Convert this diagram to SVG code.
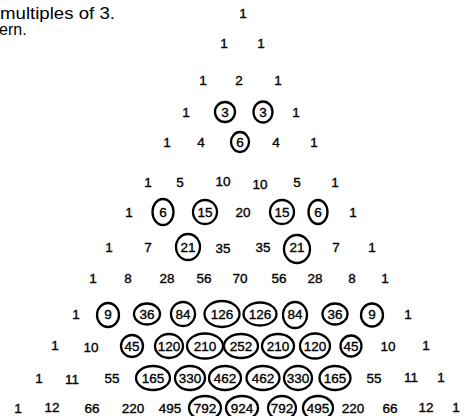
<svg xmlns="http://www.w3.org/2000/svg" width="473" height="416" viewBox="0 0 473 416">
<style>
text{font-family:"Liberation Sans",Arial,sans-serif;fill:#000}
.n{font-size:13.5px;text-anchor:middle;stroke:#000;stroke-width:0.35}
.cap{font-size:16px}
ellipse{fill:none;stroke:#000;stroke-width:2.3}
</style>
<rect width="473" height="416" fill="#fff"/>
<g id="caption">
<text class="cap" x="0" y="19" textLength="115" lengthAdjust="spacingAndGlyphs">multiples of 3.</text>
<text class="cap" x="-1" y="35">ern.</text>
</g>
<g id="row0"><text class="n" x="243" y="18">1</text></g>
<g id="row1"><text class="n" x="224" y="48">1</text><text class="n" x="261" y="48">1</text></g>
<g id="row2"><text class="n" x="203" y="85">1</text><text class="n" x="239" y="85">2</text><text class="n" x="278" y="85">1</text></g>
<g id="row3">
<text class="n" x="186" y="117">1</text>
<ellipse cx="225" cy="112" rx="10" ry="10"/><text class="n" x="225" y="117">3</text>
<ellipse cx="263" cy="112" rx="9.5" ry="10.5"/><text class="n" x="263" y="117">3</text>
<text class="n" x="296" y="117">1</text>
</g>
<g id="row4">
<text class="n" x="167" y="147">1</text><text class="n" x="201" y="147">4</text>
<ellipse cx="240" cy="142" rx="9" ry="10"/><text class="n" x="240" y="147">6</text>
<text class="n" x="276" y="147">4</text><text class="n" x="314" y="147">1</text>
</g>
<g id="row5">
<text class="n" x="148" y="187">1</text><text class="n" x="180" y="187">5</text><text class="n" x="223" y="186">10</text><text class="n" x="260" y="189">10</text><text class="n" x="297" y="187">5</text><text class="n" x="335" y="187">1</text>
</g>
<g id="row6">
<text class="n" x="129" y="217">1</text>
<ellipse cx="163" cy="212" rx="10.5" ry="13"/><text class="n" x="163" y="217">6</text>
<ellipse cx="205" cy="212" rx="12" ry="12"/><text class="n" x="205" y="217">15</text>
<text class="n" x="243" y="217">20</text>
<ellipse cx="282" cy="212" rx="12" ry="12"/><text class="n" x="282" y="217">15</text>
<ellipse cx="318" cy="212" rx="9.5" ry="12"/><text class="n" x="318" y="217">6</text>
<text class="n" x="353" y="217">1</text>
</g>
<g id="row7">
<text class="n" x="109" y="252">1</text><text class="n" x="148" y="252">7</text>
<ellipse cx="188" cy="247" rx="12" ry="13"/><text class="n" x="188" y="252">21</text>
<text class="n" x="223" y="253">35</text><text class="n" x="263" y="252">35</text>
<ellipse cx="297" cy="249" rx="13" ry="14"/><text class="n" x="297" y="252">21</text>
<text class="n" x="336" y="252">7</text><text class="n" x="372" y="252">1</text>
</g>
<g id="row8">
<text class="n" x="93" y="283">1</text><text class="n" x="128" y="283">8</text><text class="n" x="167" y="283">28</text><text class="n" x="204" y="283">56</text><text class="n" x="240" y="283">70</text><text class="n" x="279" y="283">56</text><text class="n" x="315" y="283">28</text><text class="n" x="352" y="283">8</text><text class="n" x="385" y="283">1</text>
</g>
<g id="row9">
<text class="n" x="76" y="319">1</text>
<ellipse cx="108" cy="315" rx="11" ry="12"/><text class="n" x="108" y="319">9</text>
<ellipse cx="147" cy="314" rx="13" ry="10.5"/><text class="n" x="147" y="319">36</text>
<ellipse cx="183" cy="314" rx="12" ry="12"/><text class="n" x="183" y="319">84</text>
<ellipse cx="222" cy="314" rx="17.5" ry="13"/><text class="n" x="222" y="319">126</text>
<ellipse cx="260" cy="314" rx="16.5" ry="11.5"/><text class="n" x="260" y="319">126</text>
<ellipse cx="295" cy="315" rx="12" ry="13"/><text class="n" x="295" y="319">84</text>
<ellipse cx="335" cy="314" rx="12.5" ry="10.5"/><text class="n" x="335" y="319">36</text>
<ellipse cx="372" cy="315" rx="11" ry="11.5"/><text class="n" x="372" y="319">9</text>
<text class="n" x="408" y="319">1</text>
</g>
<g id="row10">
<text class="n" x="55" y="350">1</text><text class="n" x="91" y="352">10</text>
<ellipse cx="132" cy="346" rx="11" ry="11"/><text class="n" x="132" y="351">45</text>
<ellipse cx="169" cy="346" rx="14" ry="12"/><text class="n" x="169" y="351">120</text>
<ellipse cx="205" cy="346" rx="18" ry="12.5"/><text class="n" x="205" y="351">210</text>
<ellipse cx="241" cy="346" rx="17" ry="12"/><text class="n" x="241" y="351">252</text>
<ellipse cx="278" cy="346" rx="16" ry="12"/><text class="n" x="278" y="351">210</text>
<ellipse cx="315" cy="346" rx="15" ry="12.5"/><text class="n" x="315" y="351">120</text>
<ellipse cx="351" cy="346" rx="10.5" ry="10.5"/><text class="n" x="351" y="351">45</text>
<text class="n" x="388" y="351">10</text><text class="n" x="426" y="350">1</text>
</g>
<g id="row11">
<text class="n" x="39" y="383">1</text><text class="n" x="72" y="384">11</text><text class="n" x="112" y="383">55</text>
<ellipse cx="153" cy="378" rx="17" ry="12"/><text class="n" x="153" y="383">165</text>
<ellipse cx="190" cy="378" rx="15" ry="12"/><text class="n" x="190" y="383">330</text>
<ellipse cx="225" cy="378" rx="16" ry="12"/><text class="n" x="225" y="383">462</text>
<ellipse cx="263" cy="378" rx="16.5" ry="12"/><text class="n" x="263" y="383">462</text>
<ellipse cx="298" cy="378" rx="14" ry="12"/><text class="n" x="298" y="383">330</text>
<ellipse cx="335" cy="378" rx="15.5" ry="12"/><text class="n" x="335" y="383">165</text>
<text class="n" x="374" y="383">55</text><text class="n" x="411" y="382">11</text><text class="n" x="441" y="382">1</text>
</g>
<g id="row12">
<text class="n" x="18" y="413">1</text><text class="n" x="52" y="412">12</text><text class="n" x="92" y="413">66</text><text class="n" x="133" y="413">220</text><text class="n" x="170" y="413">495</text>
<ellipse cx="205" cy="408" rx="16" ry="12"/><text class="n" x="205" y="413">792</text>
<ellipse cx="242" cy="408" rx="16" ry="12"/><text class="n" x="242" y="413">924</text>
<ellipse cx="282" cy="408" rx="14" ry="12"/><text class="n" x="282" y="413">792</text>
<ellipse cx="318" cy="408" rx="15" ry="12"/><text class="n" x="318" y="413">495</text>
<text class="n" x="353" y="413">220</text><text class="n" x="390" y="413">66</text><text class="n" x="426" y="412">12</text><text class="n" x="456" y="412">1</text>
</g>
</svg>
